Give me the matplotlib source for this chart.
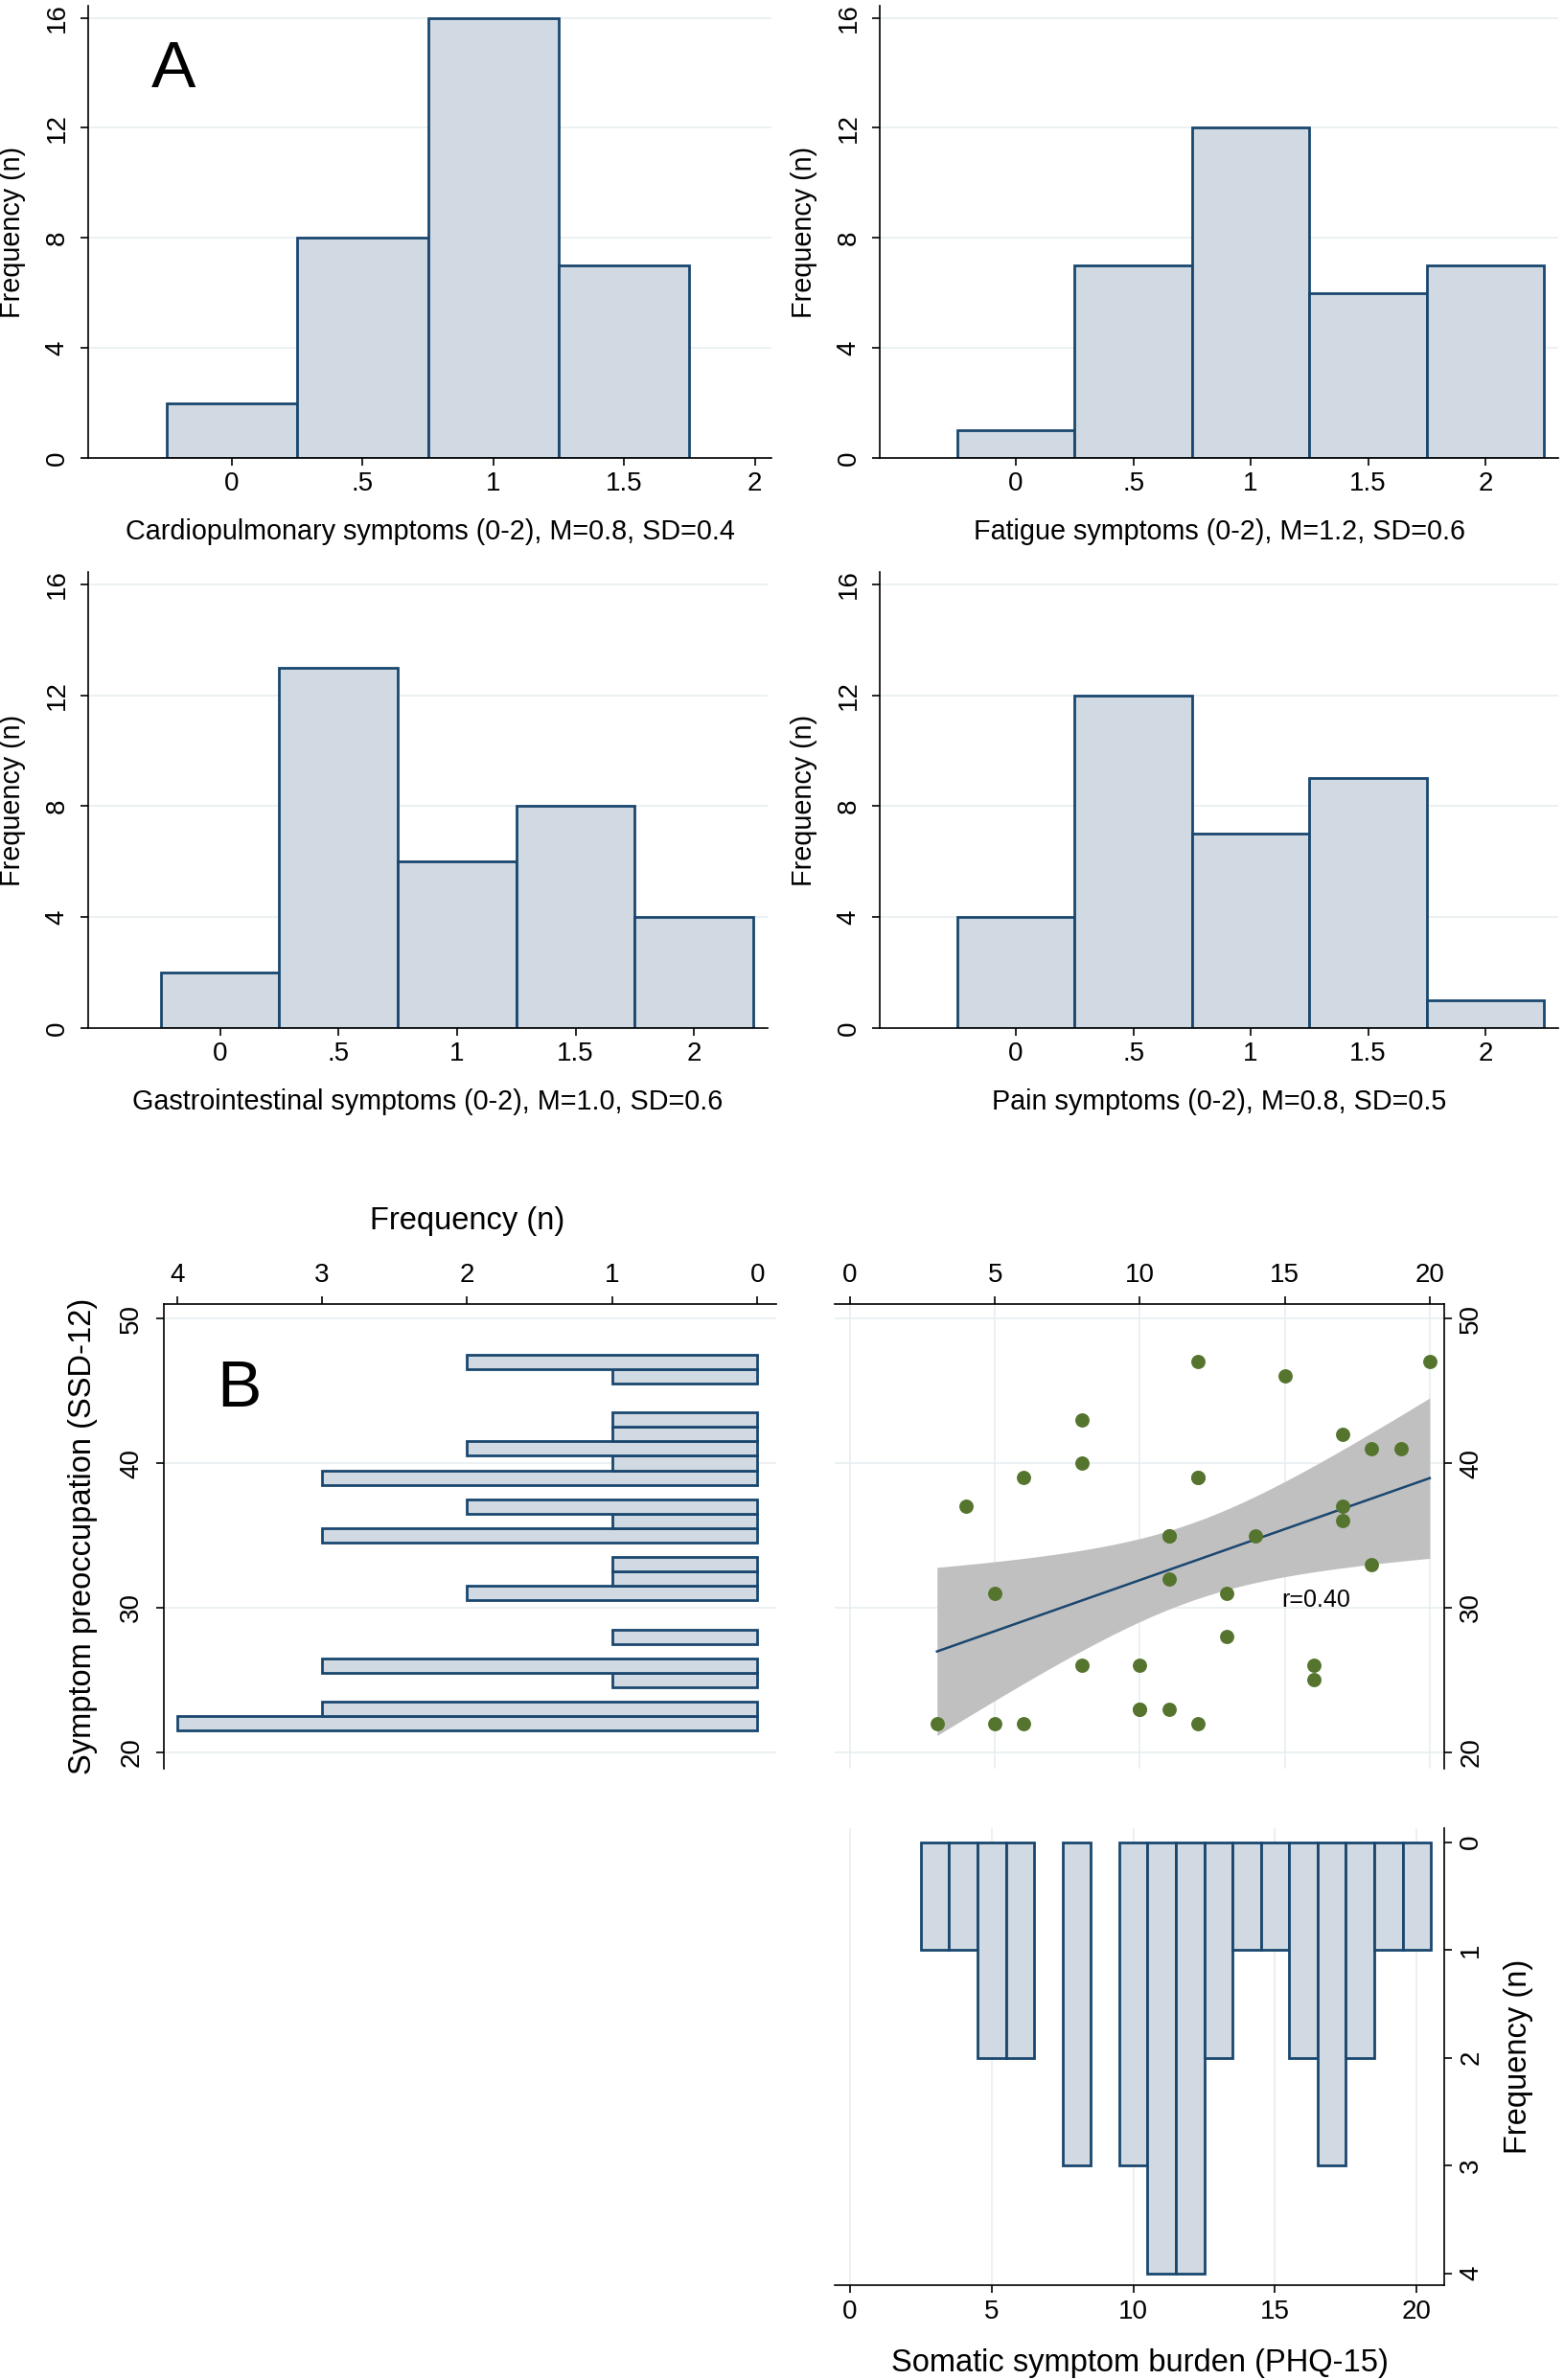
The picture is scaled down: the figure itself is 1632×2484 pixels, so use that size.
import numpy as np
import matplotlib
matplotlib.use("Agg")
import matplotlib.pyplot as plt

plt.rcParams['font.family'] = ['Liberation Sans', 'DejaVu Sans']

# ---- panel A: symptom cluster histograms (bins of width .5)
bin_centres = [0, 0.5, 1, 1.5, 2]
bin_labels = ['0', '.5', '1', '1.5', '2']
cardio_n = [2, 8, 16, 7]
fatigue_n = [1, 7, 12, 6, 7]
gastro_n = [2, 13, 6, 8, 4]
pain_n = [4, 12, 7, 9, 1]
freq_ticks = [0, 4, 8, 12, 16]

titles_a = ["Cardiopulmonary symptoms (0-2), M=0.8, SD=0.4",
            "Fatigue symptoms (0-2), M=1.2, SD=0.6",
            "Gastrointestinal symptoms (0-2), M=1.0, SD=0.6",
            "Pain symptoms (0-2), M=0.8, SD=0.5"]

# ---- panel B: PHQ-15 vs SSD-12, one pair per patient
phq = [12, 20, 15, 8, 17, 18, 19, 8, 6, 12, 12, 4, 17, 17, 11, 11, 14,
       18, 11, 5, 13, 13, 8, 10, 16, 16, 10, 10, 11, 3, 5, 6, 12]
ssd = [47, 47, 46, 43, 42, 41, 41, 40, 39, 39, 39, 37, 37, 36, 35, 35, 35,
       33, 32, 31, 31, 28, 26, 26, 26, 25, 23, 23, 23, 22, 22, 22, 22]
r_text = "r=0.40"

W, H = 1632, 2484
FILL = '#d1dae2'
EDGE = '#1a476f'
GRID = '#e6eef0'
TICK_FS = 20
LAB_FS = 20.7
BIG_FS = 23.5
BAR_LW = 2.0

fig = plt.figure(figsize=(W / 100, H / 100), dpi=100)


def rect(l, t, r, b):
    return [l / W, 1 - b / H, (r - l) / W, (b - t) / H]


def ftext(x, y, s, **kw):
    fig.text(x / W, 1 - y / H, s, ha='center', va='center', **kw)


def style(ax, spines):
    for k, sp in ax.spines.items():
        sp.set_visible(k in spines)
        sp.set_linewidth(1.2)
    ax.tick_params(length=6, width=1.2, labelsize=TICK_FS)
    ax.set_axisbelow(True)


# ---------- panel A
boxes = [(92, 6, 805, 478), (918, 6, 1626, 478),
         (92, 597, 801, 1073), (918, 597, 1626, 1073)]
xlims = [(-0.55, 2.064), (-0.58, 2.31), (-0.556, 2.31), (-0.58, 2.31)]
counts = [cardio_n, fatigue_n, gastro_n, pain_n]

for box, xl, n, title in zip(boxes, xlims, counts, titles_a):
    ax = fig.add_axes(rect(*box))
    style(ax, ['left', 'bottom'])
    ax.bar(bin_centres[:len(n)], n, width=0.5, color=FILL, edgecolor=EDGE, linewidth=BAR_LW)
    ax.set_xlim(xl)
    ax.set_ylim(0, 16.44)
    ax.set_xticks(bin_centres)
    ax.set_xticklabels(bin_labels)
    ax.set_yticks(freq_ticks)
    ax.tick_params(axis='x', pad=4)
    ax.tick_params(axis='y', pad=8, labelrotation=90)
    for lab in ax.get_yticklabels():
        lab.set_va('center')
    ax.yaxis.grid(True, color=GRID, linewidth=1.1)
    l, t, r, b = box
    ftext((l + r) / 2, b + 77, title, fontsize=LAB_FS)
    ftext(l - 79, (t + b) / 2, "Frequency (n)", fontsize=LAB_FS, rotation=90)

ftext(181, 73, "A", fontsize=50)

# ---------- panel B
phq = np.array(phq)
ssd = np.array(ssd)
sv, sc = np.unique(ssd, return_counts=True)
pv, pc = np.unique(phq, return_counts=True)

# left: SSD-12 histogram, bars going left
ax1 = fig.add_axes(rect(171, 1361, 810, 1846))
style(ax1, ['left', 'top'])
ax1.barh(sv, sc, height=1, left=0, color=FILL, edgecolor=EDGE, linewidth=BAR_LW)
ax1.set_xlim(4.09, -0.13)
ax1.set_ylim(18.87, 51)
ax1.xaxis.tick_top()
ax1.set_xticks([4, 3, 2, 1, 0])
ax1.set_yticks([20, 30, 40, 50])
ax1.tick_params(axis='x', pad=6)
ax1.tick_params(axis='y', pad=9, labelrotation=90)
for lab in ax1.get_yticklabels():
    lab.set_va('center')
ax1.yaxis.grid(True, color=GRID, linewidth=1.1)
ftext(488, 1275, "Frequency (n)", fontsize=BIG_FS)
ftext(87, 1603, "Symptom preoccupation (SSD-12)", fontsize=BIG_FS, rotation=90)
ftext(249, 1450, "B", fontsize=50)

# scatter with linear fit and 95% CI
ax2 = fig.add_axes(rect(871, 1361, 1507, 1846))
style(ax2, ['top', 'right'])
slope, icpt = np.polyfit(phq, ssd, 1)
xs = np.linspace(phq.min(), phq.max(), 100)
yfit = icpt + slope * xs
n = len(phq)
resid = ssd - (icpt + slope * phq)
s = np.sqrt(np.sum(resid ** 2) / (n - 2))
sxx = np.sum((phq - phq.mean()) ** 2)
se = s * np.sqrt(1 / n + (xs - phq.mean()) ** 2 / sxx)
t = 2.0395
ax2.fill_between(xs, yfit - t * se, yfit + t * se, color='#c0c0c0', linewidth=0)
ax2.plot(xs, yfit, color=EDGE, linewidth=1.8)
ax2.scatter(phq, ssd, s=115, color='#55752f', zorder=3, linewidths=0)
ax2.text(14.9, 30.5, r_text, fontsize=18, va='center', ha='left')
ax2.set_xlim(-0.53, 20.5)
ax2.set_ylim(18.87, 51)
ax2.xaxis.tick_top()
ax2.yaxis.tick_right()
ax2.set_xticks([0, 5, 10, 15, 20])
ax2.set_yticks([20, 30, 40, 50])
ax2.tick_params(axis='x', pad=6)
ax2.tick_params(axis='y', pad=5, labelrotation=90)
for lab in ax2.get_yticklabels():
    lab.set_va('center')
ax2.grid(True, color=GRID, linewidth=1.1)

# bottom: PHQ-15 histogram, bars hanging down
ax3 = fig.add_axes(rect(871, 1908, 1507, 2385))
style(ax3, ['right', 'bottom'])
ax3.bar(pv, pc, width=1, color=FILL, edgecolor=EDGE, linewidth=BAR_LW)
ax3.set_xlim(-0.54, 20.97)
ax3.set_ylim(4.11, -0.13)
ax3.yaxis.tick_right()
ax3.set_xticks([0, 5, 10, 15, 20])
ax3.set_yticks([0, 1, 2, 3, 4])
ax3.tick_params(axis='x', pad=5)
ax3.tick_params(axis='y', pad=5, labelrotation=90)
for lab in ax3.get_yticklabels():
    lab.set_va('center')
ax3.xaxis.grid(True, color=GRID, linewidth=1.1)
ftext(1189, 2466, "Somatic symptom burden (PHQ-15)", fontsize=BIG_FS)
ftext(1585, 2146, "Frequency (n)", fontsize=BIG_FS, rotation=90)

fig.savefig("out.png", dpi=100, facecolor='white')
